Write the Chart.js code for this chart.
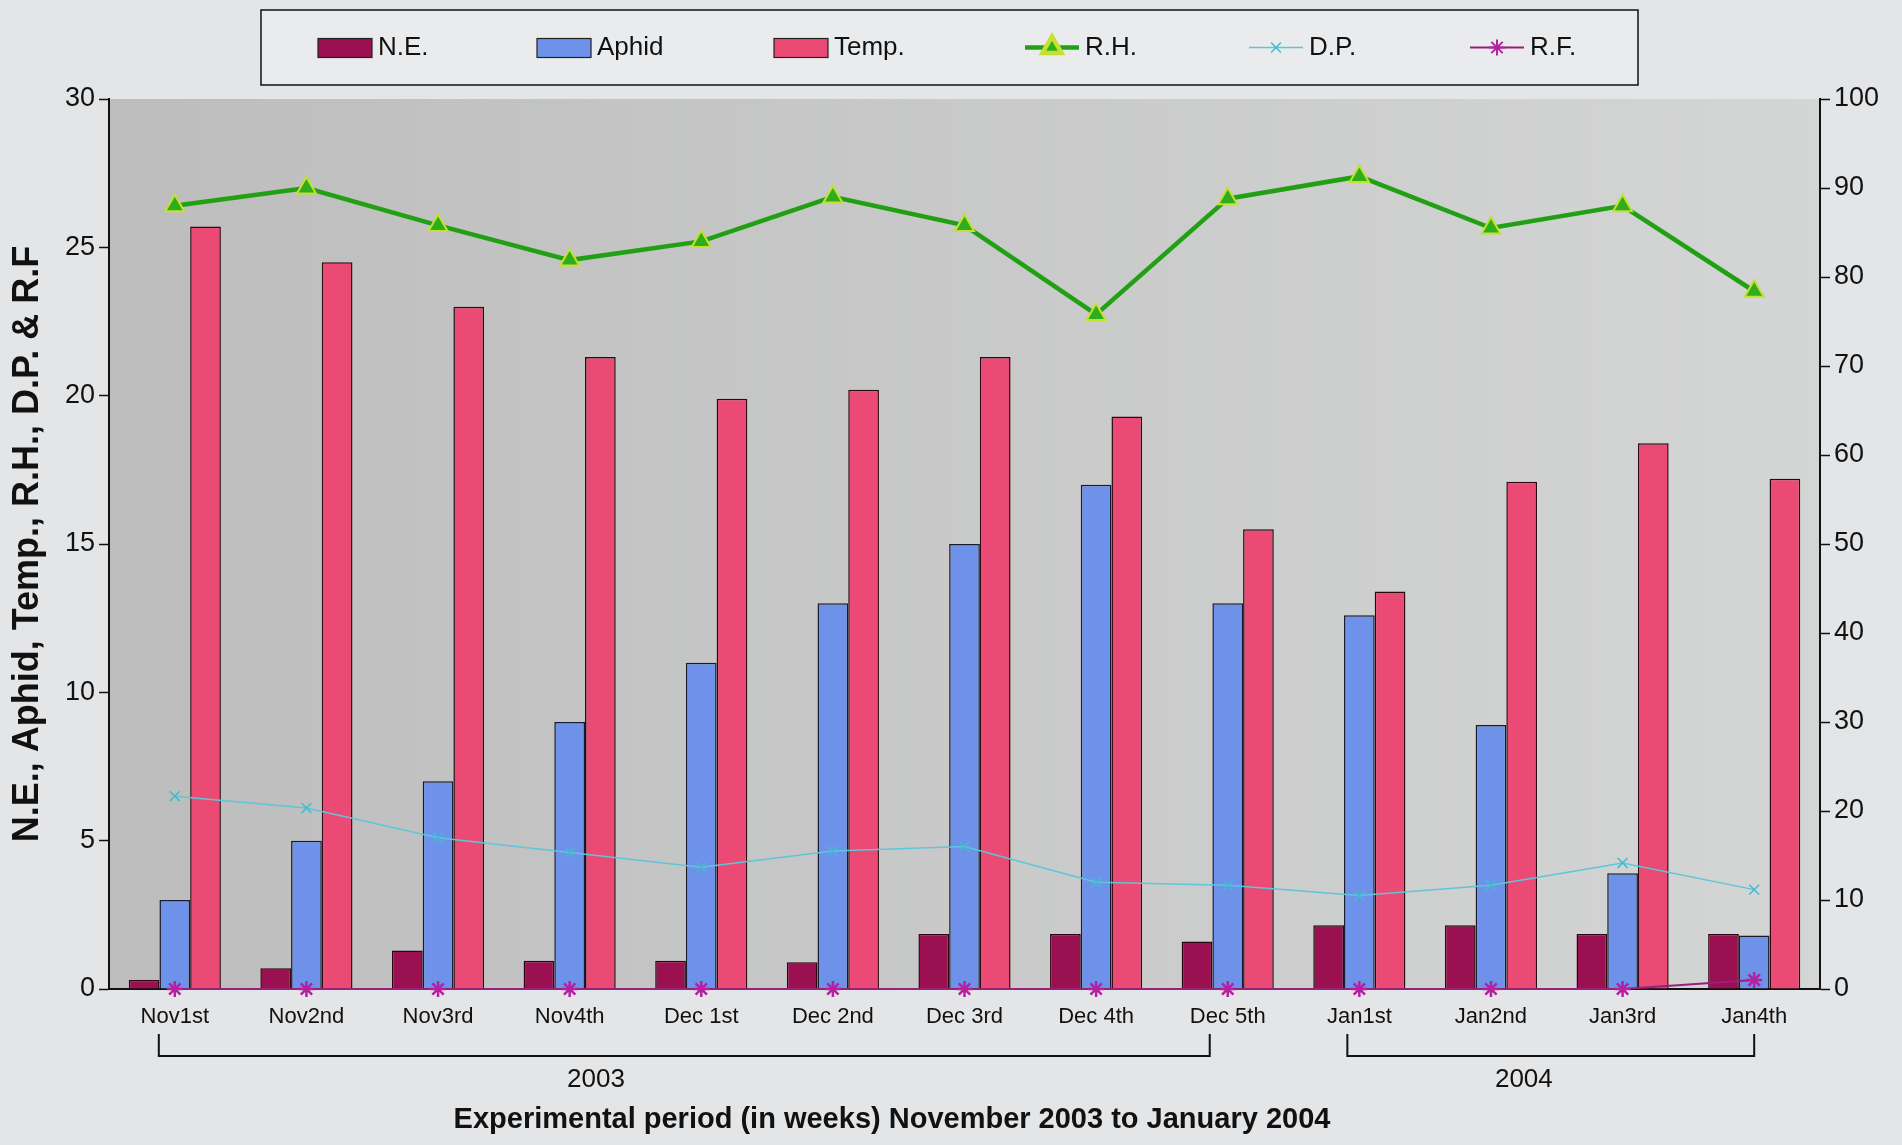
<!DOCTYPE html>
<html>
<head>
<meta charset="utf-8">
<script src="https://cdn.jsdelivr.net/npm/chart.js@4.4.1/dist/chart.umd.min.js"></script>
<style>
  html, body { margin: 0; padding: 0; background: #e4e5e7; }
  #wrap { width: 1902px; height: 1145px; position: relative; }
</style>
</head>
<body>
<div id="wrap"><canvas id="weeklyChart"></canvas></div>
<script>
const weeks = ['Nov1st','Nov2nd','Nov3rd','Nov4th','Dec 1st','Dec 2nd','Dec 3rd','Dec 4th','Dec 5th','Jan1st','Jan2nd','Jan3rd','Jan4th'];
const naturalEnemy = [0.3, 0.7, 1.3, 0.95, 0.95, 0.9, 1.85, 1.85, 1.6, 2.15, 2.15, 1.85, 1.85];
const aphid = [3.0, 5.0, 7.0, 9.0, 11.0, 13.0, 15.0, 17.0, 13.0, 12.6, 8.9, 3.9, 1.8];
const temp = [25.7, 24.5, 23.0, 21.3, 19.9, 20.2, 21.3, 19.3, 15.5, 13.4, 17.1, 18.4, 17.2];
const relHumidity = [88, 90, 85.8, 81.9, 84, 89, 85.8, 75.8, 88.8, 91.3, 85.5, 88, 78.4];
const dewPoint = [6.5, 6.1, 5.1, 4.6, 4.1, 4.65, 4.8, 3.6, 3.5, 3.15, 3.5, 4.25, 3.35];
const rainFall = [0, 0, 0, 0, 0, 0, 0, 0, 0, 0, 0, 0, 0.3];
const leftTicks = [0, 5, 10, 15, 20, 25, 30];
const rightTicks = [0, 10, 20, 30, 40, 50, 60, 70, 80, 90, 100];
const years = [
  { text: '2003', from: 0, to: 8, textAt: 3.2 },
  { text: '2004', from: 9, to: 12, textAt: 10.25 }
];

const FONT = '"Liberation Sans", Arial, sans-serif';

(function(){
  const el = document.getElementById('weeklyChart');
  if(!el || !window.Chart) return;

  // grey plot box + page background
  const backdrop = {
    id: 'backdrop',
    beforeDraw(c){
      const {ctx, chartArea: a} = c;
      ctx.save();
      ctx.fillStyle = '#e4e5e7';
      ctx.fillRect(0, 0, c.width, c.height);
      const g = ctx.createLinearGradient(a.left, 0, a.right, 0);
      g.addColorStop(0, '#bdbdbd');
      g.addColorStop(1, '#d4d5d5');
      ctx.fillStyle = g;
      ctx.fillRect(a.left, a.top, a.right - a.left, a.bottom - a.top);
      ctx.restore();
    }
  };

  // boxed legend across the top, like the old spreadsheet chart
  const boxLegend = {
    id: 'boxLegend',
    afterDraw(c, args, opts){
      const {ctx} = c;
      ctx.save();
      ctx.fillStyle = '#eaebed';
      ctx.fillRect(opts.left, opts.top, opts.width, opts.height);
      ctx.strokeStyle = '#111';
      ctx.lineWidth = 1.5;
      ctx.strokeRect(opts.left, opts.top, opts.width, opts.height);
      const cy = opts.top + opts.height / 2;
      ctx.font = '26px ' + FONT;
      ctx.textBaseline = 'middle';
      c.data.datasets.forEach((ds, i)=>{
        const x = opts.xs[i];
        if(ds.type === 'bar'){
          ctx.fillStyle = ds.backgroundColor;
          ctx.fillRect(x, cy - 9, 54, 19);
          ctx.strokeStyle = '#222';
          ctx.lineWidth = 1.2;
          ctx.strokeRect(x, cy - 9, 54, 19);
        } else {
          ctx.strokeStyle = ds.borderColor;
          ctx.lineWidth = Math.max(ds.borderWidth, 1.5);
          ctx.beginPath(); ctx.moveTo(x, cy); ctx.lineTo(x + 54, cy); ctx.stroke();
          ctx.fillStyle = ds.pointBackgroundColor;
          ctx.strokeStyle = ds.pointBorderColor;
          Chart.helpers.drawPoint(ctx, {
            pointStyle: ds.pointStyle, radius: ds.pointRadius,
            borderWidth: ds.pointBorderWidth, rotation: 0
          }, x + 27, cy);
        }
        ctx.fillStyle = '#111';
        ctx.textAlign = 'left';
        ctx.fillText(ds.label, x + 60, cy);
      });
      ctx.restore();
    }
  };

  // year brackets under the week labels, plus the x title
  const yearBrackets = {
    id: 'yearBrackets',
    afterDraw(c, args, opts){
      const {ctx} = c;
      const xs = c.scales.x;
      ctx.save();
      ctx.strokeStyle = '#111';
      ctx.lineWidth = 2;
      ctx.fillStyle = '#111';
      ctx.textAlign = 'center';
      ctx.textBaseline = 'middle';
      ctx.font = '26px ' + FONT;
      years.forEach((yr, i)=>{
        const x0 = xs.getPixelForValue(yr.from) + opts.shift[i][0];
        const x1 = xs.getPixelForValue(yr.to) + opts.shift[i][1];
        ctx.beginPath();
        ctx.moveTo(x0, opts.tickTop);
        ctx.lineTo(x0, opts.lineY);
        ctx.lineTo(x1, opts.lineY);
        ctx.lineTo(x1, opts.tickTop);
        ctx.stroke();
        ctx.fillText(yr.text, xs.getPixelForValue(yr.textAt), opts.textY);
      });
      ctx.font = 'bold 29px ' + FONT;
      ctx.fillText(opts.title, opts.titleX, opts.titleY);
      ctx.restore();
    }
  };

  new Chart(el, {
    data: {
      labels: weeks,
      datasets: [
        { type: 'bar', label: 'N.E.', data: naturalEnemy, yAxisID: 'y', backgroundColor: '#9a1050', borderColor: '#2a0812', borderWidth: 1.5, order: 2 },
        { type: 'bar', label: 'Aphid', data: aphid, yAxisID: 'y', backgroundColor: '#6e92ea', borderColor: '#1a1a2a', borderWidth: 1.5, order: 2 },
        { type: 'bar', label: 'Temp.', data: temp, yAxisID: 'y', backgroundColor: '#ea4a74', borderColor: '#2a0a10', borderWidth: 1.5, order: 2 },
        { type: 'line', label: 'R.H.', data: relHumidity, yAxisID: 'y1', borderColor: '#22a014', borderWidth: 4.5,
          pointStyle: 'triangle', pointRadius: 11, pointBackgroundColor: '#2eae1c', pointBorderColor: '#c4e030', pointBorderWidth: 2, order: 0 },
        { type: 'line', label: 'D.P.', data: dewPoint, yAxisID: 'y', borderColor: '#5ec6d8', borderWidth: 1.5,
          pointStyle: 'crossRot', pointRadius: 7, pointBackgroundColor: '#40bcd0', pointBorderColor: '#40bcd0', pointBorderWidth: 1.5, order: 0 },
        { type: 'line', label: 'R.F.', data: rainFall, yAxisID: 'y', borderColor: '#96207c', borderWidth: 2,
          pointStyle: 'star', pointRadius: 8, pointBackgroundColor: '#b420a0', pointBorderColor: '#b420a0', pointBorderWidth: 2.5, order: 0, clip: false }
      ]
    },
    options: {
      responsive: true,
      maintainAspectRatio: false,
      animation: false,
      layout: { padding: { top: 99, left: 0, right: 0, bottom: 0 } },
      datasets: { bar: { categoryPercentage: 0.7, barPercentage: 1.0 } },
      scales: {
        x: {
          offset: true,
          afterFit: s => { s.height = 156; },
          grid: { drawOnChartArea: false, drawTicks: false },
          border: { color: '#111', width: 2 },
          ticks: { color: '#111', font: { family: FONT, size: 22 }, padding: 15, maxRotation: 0, autoSkip: false }
        },
        y: {
          position: 'left', min: 0, max: 30,
          afterFit: s => { s.width = 109; },
          afterBuildTicks: s => { s.ticks = leftTicks.map(v => ({ value: v })); },
          grid: { drawOnChartArea: false, tickLength: 10, tickColor: '#111', tickWidth: 1.5 },
          border: { color: '#111', width: 2 },
          ticks: { color: '#111', font: { family: FONT, size: 27 }, padding: 4 },
          title: { display: true, text: 'N.E., Aphid, Temp., R.H., D.P. & R.F', color: '#111', font: { family: FONT, size: 36, weight: 'bold' }, padding: { top: 6, bottom: 0 } }
        },
        y1: {
          position: 'right', min: 0, max: 100,
          afterFit: s => { s.width = 82; },
          afterBuildTicks: s => { s.ticks = rightTicks.map(v => ({ value: v })); },
          grid: { drawOnChartArea: false, tickLength: 10, tickColor: '#111', tickWidth: 1.5 },
          border: { color: '#111', width: 2 },
          ticks: { color: '#111', font: { family: FONT, size: 27 }, padding: 4 }
        }
      },
      plugins: {
        legend: { display: false },
        tooltip: { enabled: false },
        boxLegend: { left: 261, top: 10, width: 1377, height: 75, xs: [318, 537, 774, 1025, 1249, 1470] },
        yearBrackets: {
          shift: [[-16, -18], [-12, 0]],
          tickTop: 1034, lineY: 1056, textY: 1080,
          title: 'Experimental period (in weeks) November 2003 to January 2004',
          titleX: 892, titleY: 1120
        }
      }
    },
    plugins: [backdrop, boxLegend, yearBrackets]
  });
})();
</script>
</body>
</html>
